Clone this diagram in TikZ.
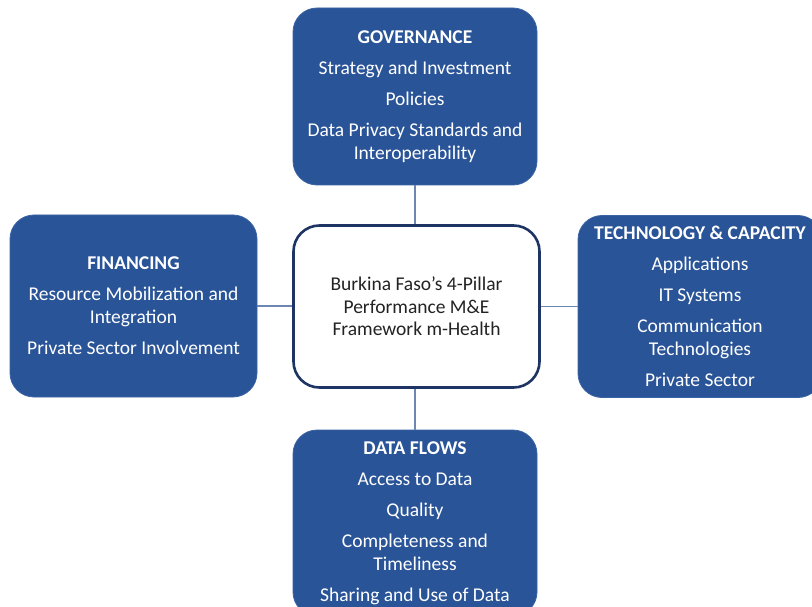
\documentclass[tikz,border=0pt]{standalone}
\usepackage{fontspec}
\setmainfont{Carlito}
\definecolor{pillarblue}{RGB}{42,84,152}
\definecolor{pillaredge}{RGB}{60,100,165}
\definecolor{ctredge}{RGB}{30,52,100}
\definecolor{connline}{RGB}{110,135,178}
\definecolor{ctrtext}{RGB}{35,35,35}
\begin{document}
\begin{tikzpicture}[x=1pt,y=-1pt,
  pillar/.style={fill=pillarblue, draw=pillaredge, line width=0.8pt, rounded corners=24pt,
    text=white, align=center, inner sep=0pt,
    font=\fontsize{19.5}{23}\selectfont},
  ctrbox/.style={fill=white, draw=ctredge, line width=2.6pt, rounded corners=26pt,
    text=ctrtext, align=center, inner sep=0pt,
    font=\fontsize{19.5}{22.5}\selectfont},
  conn/.style={draw=connline, line width=1.1pt}]
\useasboundingbox (0,0) rectangle (812,607);
\fill[white] (0,0) rectangle (812,607);
\clip (0,0) rectangle (812,607);

\node[pillar, minimum width=244pt, minimum height=177pt] (gov) at (415,96.5)
  {{\bfseries GOVERNANCE}\\[8pt]Strategy and Investment\\[8pt]Policies\\[8pt]Data Privacy Standards and\\Interoperability};

\node[pillar, minimum width=247pt, minimum height=182pt] (fin) at (133.5,306)
  {{\bfseries FINANCING}\\[8pt]Resource Mobilization and\\Integration\\[8pt]Private Sector Involvement};

\node[pillar, minimum width=244pt, minimum height=182pt] (tech) at (700,306.5)
  {{\bfseries TECHNOLOGY \& CAPACITY}\\[8pt]Applications\\[8pt]IT Systems\\[8pt]Communication\\Technologies\\[8pt]Private Sector};

\node[pillar, minimum width=244pt, minimum height=186pt] (flow) at (415,523)
  {{\bfseries DATA FLOWS}\\[8pt]Access to Data\\[8pt]Quality\\[8pt]Completeness and\\Timeliness\\[8pt]Sharing and Use of Data};

\node[ctrbox, minimum width=246pt, minimum height=162pt] (ctr) at (416.5,306.5)
  {Burkina Faso’s 4-Pillar\\Performance M\&E\\Framework m-Health};

\draw[conn] (gov.south) -- (gov.south |- ctr.north);
\draw[conn] (flow.north) -- (flow.north |- ctr.south);
\draw[conn] (fin.east) -- (fin.east -| ctr.west);
\draw[conn] (tech.west) -- (tech.west -| ctr.east);
\end{tikzpicture}
\end{document}
